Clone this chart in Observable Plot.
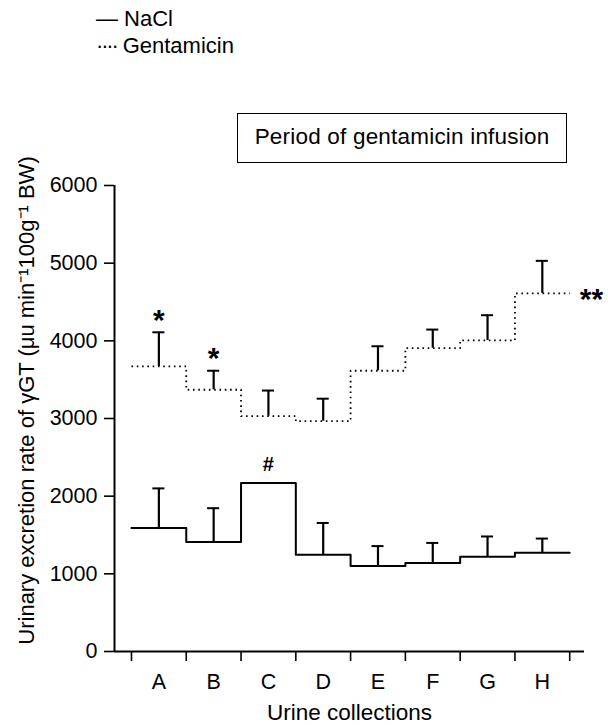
<!DOCTYPE html>
<html>
<head>
<meta charset="utf-8">
<script src="https://cdn.jsdelivr.net/npm/d3@7"></script>
<script src="https://cdn.jsdelivr.net/npm/@observablehq/plot@0.6"></script>
<style>
  body { margin: 0; background: #fff; font-family: "Liberation Sans", Arial, sans-serif; color: #000; }
  #head { position: relative; width: 608px; height: 170px; }
  .leg { position: absolute; left: 96px; font-size: 22px; line-height: 22px; white-space: pre; }
  #box { position: absolute; left: 237px; top: 113px; width: 330px; height: 50px; box-sizing: border-box; border: 1.5px solid #000; }
  #box span { position: absolute; left: 0; right: 0; top: 12px; text-align: center; font-size: 22.5px; line-height: 22px; letter-spacing: 0.2px; }
</style>
</head>
<body>
<div id="head">
  <div class="leg" style="top:8px">— NaCl</div>
  <div class="leg" style="top:35px"><span style="letter-spacing:-2.2px">····</span> Gentamicin</div>
  <div id="box"><span>Period of gentamicin infusion</span></div>
</div>
<div id="chart"></div>
<script>
const categories = ["A", "B", "C", "D", "E", "F", "G", "H"];
const naclMean = [1590, 1410, 2170, 1245, 1100, 1140, 1220, 1270];
const naclErr  = [510, 435, null, 410, 257, 258, 261, 184];
const gentMean = [3670, 3370, 3030, 2965, 3615, 3905, 4005, 4610];
const gentErr  = [440, 245, 330, 290, 315, 240, 325, 420];
const gentSig  = ["*", "*", "", "", "", "", "", ""];
const naclSig  = ["", "", "#", "", "", "", "", ""];
const gentEndSig = "**";
const yTicks = [0, 1000, 2000, 3000, 4000, 5000, 6000];
const yLabel = "Urinary excretion rate of \u03b3GT (\u03bcu min\u207b\u00b9100g\u207b\u00b9 BW)";
const xLabel = "Urine collections";

const xMin = -0.31, xMax = 8.27;

function stepRows(vals) {
  const rows = vals.map((v, i) => ({x: i, y: v}));
  rows.push({x: vals.length, y: vals[vals.length - 1]});
  return rows;
}
function errRows(means, errs, sig) {
  return means.map((m, i) => ({c: i + 0.5, m, top: errs[i] == null ? null : m + errs[i], sig: sig[i]}));
}
const naclRows = stepRows(naclMean);
const gentRows = stepRows(gentMean);
const naclE = errRows(naclMean, naclErr, naclSig);
const gentE = errRows(gentMean, gentErr, gentSig);
const naclEb = naclE.filter(d => d.top != null);
const gentEb = gentE.filter(d => d.top != null);
const capHalf = 0.11;
const font = "'Liberation Sans', Arial, sans-serif";

const chart = Plot.plot({
  width: 608,
  height: 555,
  marginTop: 15,
  marginBottom: 74,
  marginLeft: 114,
  marginRight: 24,
  style: {fontFamily: font, fontSize: "21px", color: "#000", background: "#fff", overflow: "visible"},
  x: {domain: [xMin, xMax]},
  y: {domain: [0, 6000]},
  marks: [
    Plot.ruleY([0], {strokeWidth: 2}),
    Plot.ruleX([xMin], {strokeWidth: 2}),
    Plot.axisY(yTicks, {tickSize: 10, tickPadding: 7, tickFormat: d => String(d), label: null, strokeWidth: 1.6, fontSize: 21.5}),
    Plot.axisX(d3.range(9), {tickSize: 10, tickFormat: () => "", label: null, strokeWidth: 1.6}),
    Plot.axisX(d3.range(8).map(i => i + 0.5), {tickSize: 0, tickPadding: 22, tickFormat: d => categories[Math.floor(d)], label: null, fontSize: 21.5}),
    Plot.line(naclRows, {x: "x", y: "y", curve: "step-after", stroke: "#000", strokeWidth: 2}),
    Plot.line(gentRows, {x: "x", y: "y", curve: "step-after", stroke: "#000", strokeWidth: 1.8, strokeDasharray: "1.6,3.7", strokeLinecap: "butt"}),
    Plot.ruleX(naclEb, {x: "c", y1: "m", y2: "top", strokeWidth: 2.2}),
    Plot.ruleY(naclEb, {y: "top", x1: d => d.c - capHalf, x2: d => d.c + capHalf, strokeWidth: 2}),
    Plot.ruleX(gentEb, {x: "c", y1: "m", y2: "top", strokeWidth: 2.2}),
    Plot.ruleY(gentEb, {y: "top", x1: d => d.c - capHalf, x2: d => d.c + capHalf, strokeWidth: 2}),
    Plot.text(gentE.filter(d => d.sig), {x: "c", y: "top", text: "sig", dy: -12, fontSize: 30, fontWeight: "bold"}),
    Plot.text(naclE.filter(d => d.sig), {x: "c", y: "m", text: "sig", dy: -18, fontSize: 20, fontWeight: "bold"}),
    Plot.text([{x: gentRows.length - 1, y: gentMean[gentMean.length - 1], t: gentEndSig}], {x: "x", y: "y", text: "t", textAnchor: "start", dx: 10, dy: 5.5, fontSize: 30, fontWeight: "bold"}),
    Plot.text([xLabel], {frameAnchor: "bottom", text: d => d, textAnchor: "middle", lineAnchor: "top", dy: 53, fontSize: 22.5}),
    Plot.text([yLabel], {frameAnchor: "left", text: d => d, textAnchor: "middle", lineAnchor: "middle", rotate: -90, dx: -87.5, dy: -18, fontSize: 22})
  ]
});
document.getElementById("chart").appendChild(chart);
</script>
</body>
</html>
